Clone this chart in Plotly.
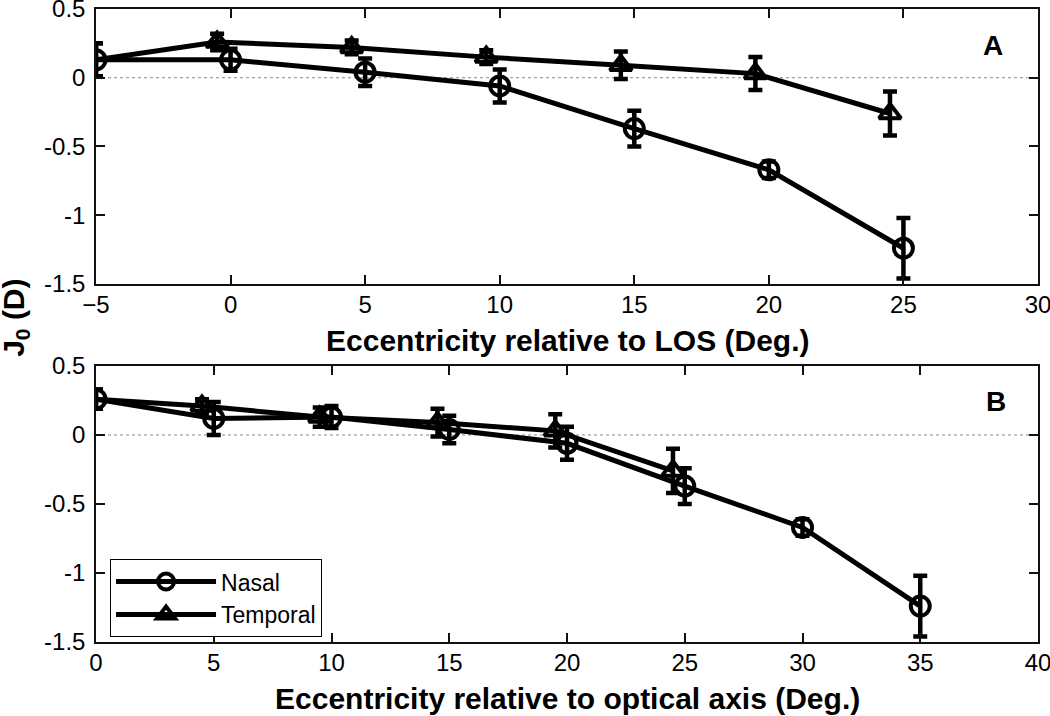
import plotly.graph_objects as go

# ---------------- data ----------------
# Panel A: eccentricity relative to LOS
a_nasal_x = [-5, 0, 5, 10, 15, 20, 25]
a_nasal_y = [0.13, 0.13, 0.04, -0.06, -0.37, -0.67, -1.24]
a_nasal_err = [0.12, 0.08, 0.10, 0.12, 0.13, 0.06, 0.22]

a_temp_x = [-5, -0.5, 4.5, 9.5, 14.5, 19.5, 24.5]
a_temp_y = [0.13, 0.26, 0.22, 0.15, 0.09, 0.03, -0.26]
a_temp_err = [0.12, 0.06, 0.05, 0.05, 0.10, 0.12, 0.16]

# Panel B: eccentricity relative to optical axis
b_nasal_x = [0, 5, 10, 15, 20, 25, 30, 35]
b_nasal_y = [0.26, 0.12, 0.13, 0.04, -0.06, -0.37, -0.67, -1.24]
b_nasal_err = [0.07, 0.12, 0.08, 0.10, 0.12, 0.13, 0.06, 0.22]

b_temp_x = [0, 4.5, 9.5, 14.5, 19.5, 24.5]
b_temp_y = [0.26, 0.21, 0.13, 0.09, 0.03, -0.26]
b_temp_err = [0.07, 0.05, 0.07, 0.10, 0.12, 0.16]

a_xticks = [-5, 0, 5, 10, 15, 20, 25, 30]
b_xticks = [0, 5, 10, 15, 20, 25, 30, 35, 40]
y_ticks = [-1.5, -1, -0.5, 0, 0.5]
y_ticklabels = ["-1.5", "-1", "-0.5", "0", "0.5"]

FONT = "Arial, Liberation Sans, sans-serif"
BLACK = "#000000"
MS = 19


def sizes(n, hide_first):
    return [0 if (hide_first and i == 0) else MS for i in range(n)]


def trace(x, y, err, symbol, name, xa, ya, showlegend, hide_first=False):
    return go.Scatter(
        x=x, y=y, name=name, xaxis=xa, yaxis=ya, showlegend=showlegend,
        mode="lines+markers",
        line=dict(color=BLACK, width=5),
        marker=dict(symbol=symbol, size=sizes(len(x), hide_first), color=BLACK,
                    opacity=1, line=dict(color=BLACK, width=4)),
        error_y=dict(type="data", array=err, visible=True, color=BLACK,
                     thickness=4.5, width=7),
    )


fig = go.Figure()
fig.add_trace(trace(a_nasal_x, a_nasal_y, a_nasal_err, "circle-open", "Nasal", "x", "y", False))
fig.add_trace(trace(a_temp_x, a_temp_y, a_temp_err, "triangle-up-open", "Temporal", "x", "y", False, True))
fig.add_trace(trace(b_nasal_x, b_nasal_y, b_nasal_err, "circle-open", "Nasal", "x2", "y2", True))
fig.add_trace(trace(b_temp_x, b_temp_y, b_temp_err, "triangle-up-open", "Temporal", "x2", "y2", True, True))

axis_common = dict(
    showline=True, linecolor="#111111", linewidth=1.5, mirror="ticks",
    ticks="inside", ticklen=9, tickwidth=1.5, tickcolor="#111111",
    showgrid=False, zeroline=False, automargin=False, ticklabeloverflow="allow",
    tickfont=dict(family=FONT, size=24, color=BLACK),
)

fig.update_layout(
    template="none",
    width=1050, height=716,
    margin=dict(l=96, r=12, t=9, b=74, autoexpand=False),
    paper_bgcolor="white", plot_bgcolor="white",
    font=dict(family=FONT, color=BLACK),
    xaxis=dict(domain=[0, 1], anchor="y", range=[-5, 30], tickvals=a_xticks,
               ticklabelstandoff=-2, **axis_common),
    yaxis=dict(domain=[0.5656, 1], anchor="x", range=[-1.5, 0.5], tickvals=y_ticks,
               ticktext=y_ticklabels, ticklabelstandoff=4, **axis_common),
    xaxis2=dict(domain=[0, 1], anchor="y2", range=[0, 40], tickvals=b_xticks,
                ticklabelstandoff=-2, **axis_common),
    yaxis2=dict(domain=[0, 0.436], anchor="x2", range=[-1.5, 0.5], tickvals=y_ticks,
                ticktext=y_ticklabels, ticklabelstandoff=4, **axis_common),
    legend=dict(x=0.0149, y=0.131, xanchor="left", yanchor="top",
                bgcolor="white", bordercolor=BLACK, borderwidth=1,
                font=dict(family=FONT, size=23, color=BLACK),
                itemwidth=100, tracegroupgap=0),
    shapes=[
        dict(type="line", xref="x domain", yref="y", x0=0, x1=1, y0=0, y1=0,
             line=dict(color="#888888", width=1, dash="dot"), layer="below"),
        dict(type="line", xref="x2 domain", yref="y2", x0=0, x1=1, y0=0, y1=0,
             line=dict(color="#888888", width=1, dash="dot"), layer="below"),
    ],
    annotations=[
        dict(text="<b>Eccentricity relative to LOS (Deg.)</b>", xref="paper", yref="paper",
             x=0.5, y=0.477, xanchor="center", yanchor="middle", showarrow=False,
             font=dict(family=FONT, size=30, color=BLACK)),
        dict(text="<b>Eccentricity relative to optical axis (Deg.)</b>", xref="paper", yref="paper",
             x=0.5, y=-0.090, xanchor="center", yanchor="middle", showarrow=False,
             font=dict(family=FONT, size=30, color=BLACK)),
        dict(text="<b>J<sub>0</sub> (D)</b>", xref="paper", yref="paper",
             x=-0.085, y=0.512, xanchor="center", yanchor="middle", showarrow=False,
             textangle=-90, font=dict(family=FONT, size=30, color=BLACK)),
        dict(text="<b>A</b>", xref="x domain", yref="y domain", x=0.952, y=0.869,
             xanchor="center", yanchor="middle", showarrow=False,
             font=dict(family=FONT, size=28, color=BLACK)),
        dict(text="<b>B</b>", xref="x2 domain", yref="y2 domain", x=0.955, y=0.87,
             xanchor="center", yanchor="middle", showarrow=False,
             font=dict(family=FONT, size=28, color=BLACK)),
    ],
)

fig.write_html("out.html",
               config={"displayModeBar": False},
               post_script="document.body.style.margin='0';document.body.style.overflow='hidden';")
